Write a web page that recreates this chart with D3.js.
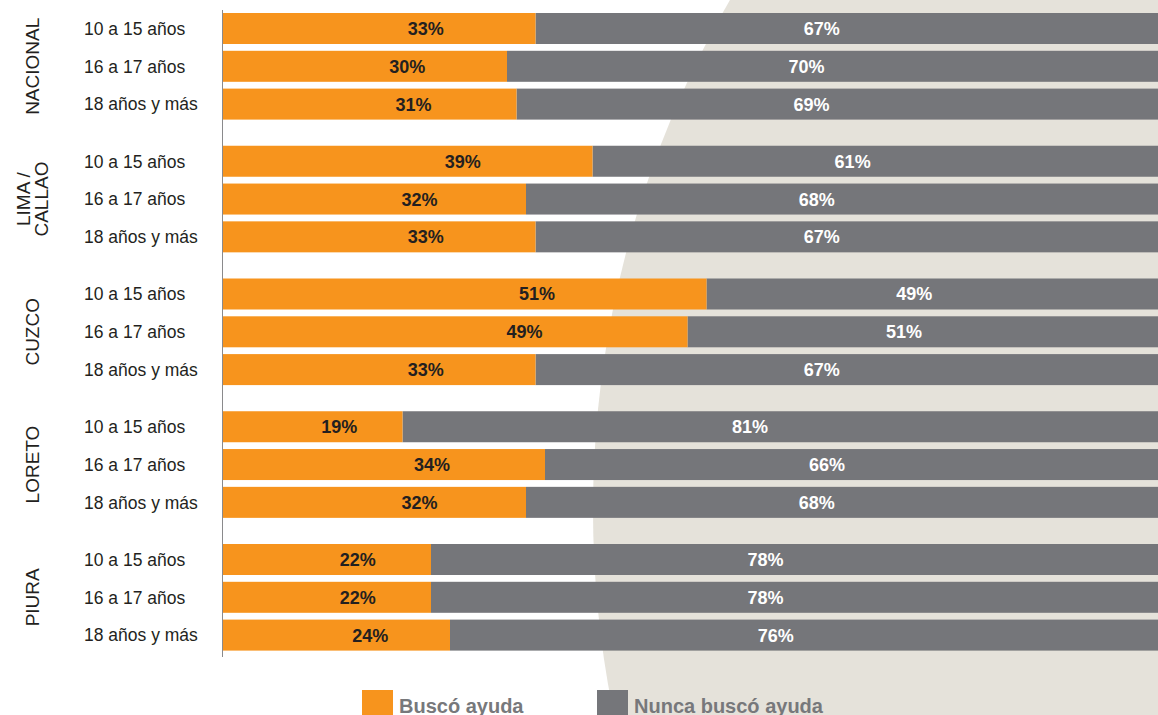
<!DOCTYPE html>
<html>
<head>
<meta charset="utf-8">
<script src="https://cdn.jsdelivr.net/npm/d3@7"></script>
<style>
  body { margin: 0; background: #fff; }
  svg { display: block; font-family: "Liberation Sans", Arial, sans-serif; }
</style>
</head>
<body>
<div id="chart"></div>
<script>
// data
var regions = ["NACIONAL", "LIMA / CALLAO", "CUZCO", "LORETO", "PIURA"];
var ageGroups = ["10 a 15 años", "16 a 17 años", "18 años y más"];
// Buscó ayuda (%) per region, per age group
var buscoAyuda = [
  [33, 30, 31],
  [39, 32, 33],
  [51, 49, 33],
  [19, 34, 32],
  [22, 22, 24]
];
// Nunca buscó ayuda (%)
var nuncaBusco = [
  [67, 70, 69],
  [61, 68, 67],
  [49, 51, 67],
  [81, 66, 68],
  [78, 78, 76]
];
var seriesNames = ["Buscó ayuda", "Nunca buscó ayuda"];

var width = 1158, height = 715;
var colors = { orange: "#f7941d", gray: "#75767a", beige: "#e5e2da" };

var svg = d3.select("#chart").append("svg")
  .attr("width", width)
  .attr("height", height);

//background shape on the right
svg.append("circle")
  .attr("cx", 1611)
  .attr("cy", 510)
  .attr("r", 1018)
  .attr("fill", colors.beige);

var x0 = 222;
var x = d3.scaleLinear().domain([0, 100]).range([x0, x0 + 950]);

var yGroup = d3.scaleBand()
  .domain(regions)
  .range([13, 650.6])
  .paddingInner(0.197);

var yRow = d3.scaleBand()
  .domain(ageGroups)
  .range([0, yGroup.bandwidth()])
  .paddingInner(0.18);

//flatten rows
var rows = [];
regions.forEach(function (reg, g) {
  ageGroups.forEach(function (age, r) {
    rows.push({
      region: reg,
      age: age,
      busco: buscoAyuda[g][r],
      nunca: nuncaBusco[g][r],
      y: yGroup(reg) + yRow(age)
    });
  });
});

var bh = yRow.bandwidth();

var row = svg.selectAll("g.row").data(rows).enter().append("g").attr("class", "row");

row.append("rect")
  .attr("x", function (d) { return x(d.busco); })
  .attr("y", function (d) { return d.y; })
  .attr("width", function (d) { return x(100) - x(d.busco); })
  .attr("height", bh)
  .attr("fill", colors.gray);

row.append("rect")
  .attr("x", x(0))
  .attr("y", function (d) { return d.y; })
  .attr("width", function (d) { return x(d.busco) - x(0); })
  .attr("height", bh)
  .attr("fill", colors.orange);

row.append("text")
  .attr("x", function (d) { return x(0) + 0.65 * (x(d.busco) - x(0)); })
  .attr("y", function (d) { return d.y + bh / 2; })
  .attr("dy", "0.36em")
  .attr("text-anchor", "middle")
  .attr("font-size", 18)
  .attr("font-weight", "bold")
  .attr("fill", "#231f20")
  .text(function (d) { return d.busco + "%"; });

row.append("text")
  .attr("x", function (d) { return x(d.busco) + 0.46 * (width - x(d.busco)); })
  .attr("y", function (d) { return d.y + bh / 2; })
  .attr("dy", "0.36em")
  .attr("text-anchor", "middle")
  .attr("font-size", 18)
  .attr("font-weight", "bold")
  .attr("fill", "#ffffff")
  .text(function (d) { return d.nunca + "%"; });

//age labels
row.append("text")
  .attr("x", 84)
  .attr("y", function (d) { return d.y + bh / 2; })
  .attr("dy", "0.36em")
  .attr("font-size", 17.5)
  .attr("fill", "#231f20")
  .text(function (d) { return d.age; });

//vertical axis line
svg.append("line")
  .attr("x1", x0 + 0.5).attr("x2", x0 + 0.5)
  .attr("y1", 10).attr("y2", 657)
  .attr("stroke", "#8a8a8c")
  .attr("stroke-width", 1);

//region labels, rotated
var regionLabel = svg.selectAll("g.region").data(regions).enter().append("g")
  .attr("class", "region")
  .attr("transform", function (d) {
    return "translate(32," + (yGroup(d) + yGroup.bandwidth() / 2) + ") rotate(-90)";
  });

regionLabel.each(function (d) {
  var lines = d.indexOf("/") > -1 ? [d.split("/")[0] + "/", d.split("/")[1].trim()] : [d];
  var t = d3.select(this).append("text")
    .attr("text-anchor", "middle")
    .attr("font-size", 19)
    .attr("fill", "#231f20");
  lines.forEach(function (l, i) {
    t.append("tspan")
      .attr("x", 0)
      .attr("y", (i - (lines.length - 1) / 2) * 18)
      .attr("dy", "0.36em")
      .text(l);
  });
});

//legend
var legendX = [362, 597];
var legend = svg.selectAll("g.legend").data(seriesNames).enter().append("g")
  .attr("class", "legend")
  .attr("transform", function (d, i) { return "translate(" + legendX[i] + ",690)"; });

legend.append("rect")
  .attr("width", 31)
  .attr("height", 30)
  .attr("fill", function (d, i) { return i == 0 ? colors.orange : colors.gray; });

legend.append("text")
  .attr("x", 37)
  .attr("y", 23)
  .attr("font-size", 20)
  .attr("font-weight", "bold")
  .attr("fill", "#77787b")
  .text(function (d) { return d; });
</script>
</body>
</html>
